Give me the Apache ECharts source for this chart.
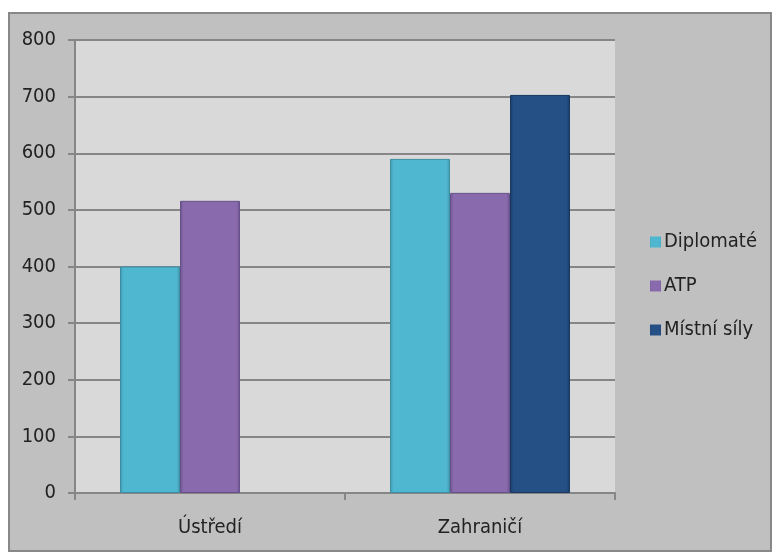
<!DOCTYPE html>
<html><head><meta charset="utf-8">
<script src="https://cdn.jsdelivr.net/npm/echarts@6/dist/echarts.min.js"></script>
<style>html,body{margin:0;padding:0;background:#fff}#c{width:772px;height:552px}</style>
</head><body><div id="c"></div>
<script>
const categories = ['Ústředí', 'Zahraničí'];
const diplomate = [400, 590];
const atp = [516, 530];
const mistniSily = [null, 703];
const yTicks = { min: 0, max: 800, interval: 100 };

const font = '"Liberation Sans Narrow", "DejaVu Sans Condensed", "Open Sans", sans-serif';
function grad(mid, dark) {
  return new echarts.graphic.LinearGradient(0, 0, 1, 0, [
    { offset: 0, color: dark }, { offset: 0.06, color: mid },
    { offset: 0.94, color: mid }, { offset: 1, color: dark }
  ]);
}
const chart = echarts.init(document.getElementById('c'));
chart.setOption({
  backgroundColor: '#ffffff',
  animation: false,
  graphic: [{
    type: 'rect', left: 8, top: 12, z: -10,
    shape: { width: 762, height: 538 },
    style: { fill: '#c0c0c0', stroke: '#888888', lineWidth: 2 }
  }],
  grid: { left: 75, top: 40, right: 157, bottom: 59, show: true, backgroundColor: '#d9d9d9', borderWidth: 0 },
  legend: {
    orient: 'vertical', left: 650, top: 232, itemGap: 24, padding: 0,
    itemWidth: 11, itemHeight: 11, icon: 'rect',
    itemStyle: { borderWidth: 0 },
    textStyle: { fontFamily: font, fontSize: 20, color: '#222', padding: [0, 0, 0, -2] },
    data: ['Diplomaté', 'ATP', 'Místní síly']
  },
  xAxis: {
    type: 'category', data: categories,
    axisLine: { lineStyle: { color: '#868686', width: 2 } },
    axisTick: { show: true, length: 7, lineStyle: { color: '#868686', width: 2 } },
    axisLabel: { fontFamily: font, fontSize: 20, color: '#222', margin: 25 }
  },
  yAxis: {
    type: 'value', min: yTicks.min, max: yTicks.max, interval: yTicks.interval,
    axisLine: { show: true, lineStyle: { color: '#868686', width: 2 } },
    axisTick: { show: true, length: 7, lineStyle: { color: '#868686', width: 2 } },
    splitLine: { lineStyle: { color: '#868686', width: 2 } },
    axisLabel: { fontFamily: font, fontSize: 20, color: '#222', margin: 19 }
  },
  series: [
    { name: 'Diplomaté', type: 'bar', data: diplomate, barWidth: 60, barGap: '0%',
      itemStyle: { color: grad('#50b7d1', '#3f97ad'), borderColor: '#3e8ea3', borderWidth: 1 } },
    { name: 'ATP', type: 'bar', data: atp, barWidth: 60, barGap: '0%',
      itemStyle: { color: grad('#896bad', '#6c5290'), borderColor: '#65508a', borderWidth: 1 } },
    { name: 'Místní síly', type: 'bar', data: mistniSily, barWidth: 60, barGap: '0%',
      itemStyle: { color: grad('#245086', '#1a3b66'), borderColor: '#183860', borderWidth: 1 } }
  ]
});
</script></body></html>
